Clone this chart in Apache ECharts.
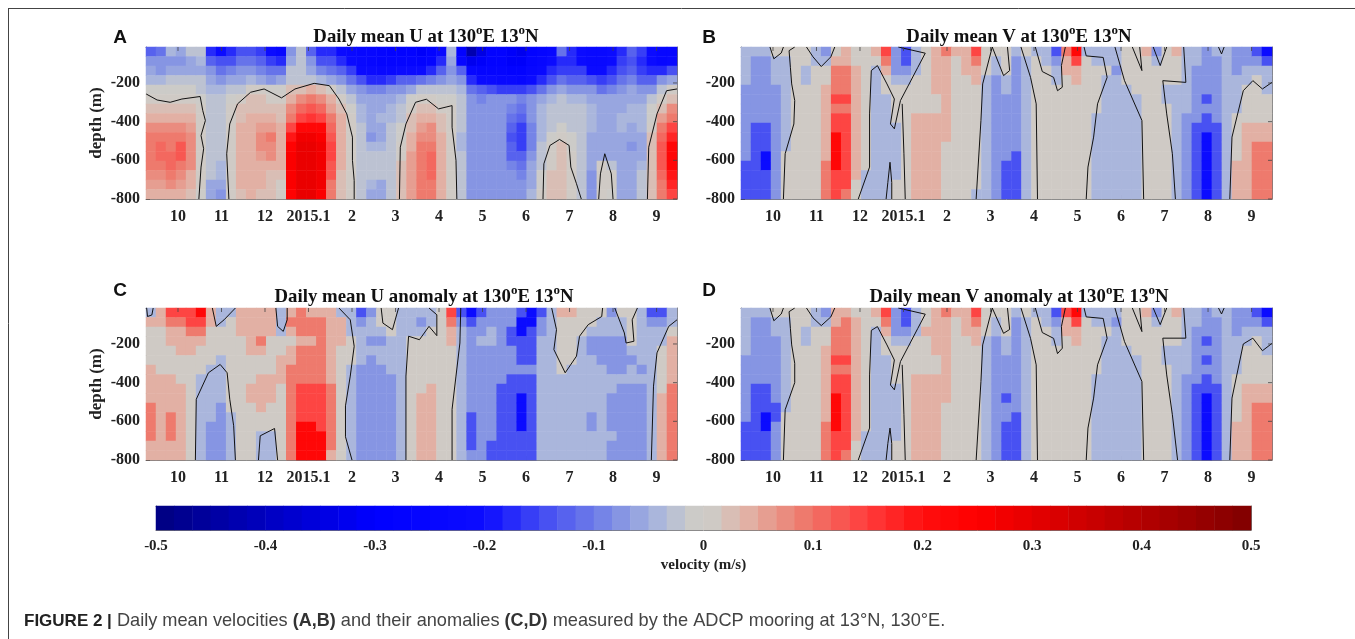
<!DOCTYPE html>
<html>
<head>
<meta charset="utf-8">
<title>Daily mean velocities</title>
<script src="https://cdn.jsdelivr.net/npm/echarts@6/dist/echarts.min.js"></script>
<style>
html, body { margin: 0; padding: 0; background: #fff; }
#main { width: 1355px; height: 639px; }
</style>
</head>
<body>
<div id="main"></div>
<script>
var monthTicks = [0, 1, 2, 3, 4, 5, 6, 7, 8, 9, 10, 11];
var monthLabels = ['10', '11', '12', '2015.1', '2', '3', '4', '5', '6', '7', '8', '9'];
var depthTicks = [-200, -400, -600, -800];
var barTicks = [-0.5, -0.4, -0.3, -0.2, -0.1, 0, 0.1, 0.2, 0.3, 0.4, 0.5];

// velocity in cm/s: one line per time column, 16 depths from surface to 800 m
var panelA = [
[-12,-8,-6,-4,-1,1,2,4,7,9,10,10,9,7,6,5],
[-10,-8,-7,-4,-1,1,2,4,7,10,11,11,9,8,6,5],
[-4,-7,-6,-3,-1,1,2,4,7,9,10,11,11,9,7,5],
[-6,-8,-6,-3,-1,1,2,5,8,10,12,12,10,8,6,4],
[-2,-5,-5,-2,-1,1,2,4,6,8,8,8,7,5,4,3],
[-2,-4,-5,-3,-2,-1,1,1,1,1,1,1,1,1,1,-1],
[-18,-12,-8,-5,-4,-3,-3,-2,-2,-2,-2,-3,-3,-3,-5,-6],
[-20,-14,-10,-7,-4,-3,-3,-3,-2,-2,-2,-3,-4,-4,-5,-7],
[-18,-14,-9,-6,-3,-1,1,1,1,1,1,1,1,1,1,1],
[-14,-10,-8,-5,-2,1,2,3,4,4,4,4,4,4,4,3],
[-14,-10,-7,-4,1,2,3,4,5,5,5,5,5,4,4,4],
[-16,-12,-9,-6,1,2,3,4,6,7,7,6,5,4,4,3],
[-20,-15,-11,-8,-1,1,3,4,6,9,8,7,5,3,2,2],
[-24,-18,-10,-5,-1,1,2,3,4,5,5,4,4,2,1,1],
[-8,-6,-3,-2,2,5,7,10,15,20,25,26,26,26,26,25],
[-3,-2,-3,-2,3,8,11,15,22,28,30,30,30,30,30,30],
[-12,-8,-6,-3,4,9,12,16,22,28,30,30,30,30,30,30],
[-18,-14,-9,-4,3,8,11,14,22,26,28,28,28,28,28,26],
[-18,-14,-10,-5,1,4,6,9,11,13,14,14,13,12,10,9],
[-20,-17,-13,-8,-3,1,3,4,5,5,5,4,4,3,2,2],
[-22,-20,-16,-11,-5,-2,-1,1,1,1,1,1,1,1,1,1],
[-24,-22,-20,-14,-7,-5,-4,-4,-3,-3,-3,-2,-2,-2,-3,-3],
[-24,-24,-21,-17,-9,-6,-5,-5,-6,-7,-4,-3,-3,-3,-4,-5],
[-26,-25,-22,-18,-9,-6,-5,-4,-5,-6,-4,-3,-3,-3,-5,-5],
[-28,-26,-22,-16,-8,-5,-4,-4,-3,-3,-3,-3,-3,-3,-3,-3],
[-28,-26,-20,-13,-7,-4,-3,-2,-1,-1,1,1,2,2,2,2],
[-28,-26,-20,-12,-6,-1,1,2,3,5,5,6,6,6,6,6],
[-30,-28,-20,-10,-3,1,2,4,6,8,9,10,10,10,10,9],
[-28,-26,-18,-9,-3,1,3,5,7,8,10,11,11,11,10,9],
[-22,-18,-12,-7,-3,-1,1,2,3,4,5,5,5,5,5,4],
[-4,-6,-8,-6,-3,-1,1,1,1,1,1,1,1,1,1,1],
[-28,-24,-12,-8,-4,-3,-3,-3,-3,-4,-4,-3,-3,-3,-3,-3],
[-42,-32,-24,-17,-10,-7,-7,-7,-7,-7,-7,-7,-7,-7,-7,-7],
[-34,-30,-26,-20,-13,-9,-8,-8,-8,-8,-8,-8,-8,-8,-8,-8],
[-28,-28,-25,-20,-14,-8,-7,-7,-7,-7,-7,-7,-7,-7,-7,-7],
[-28,-28,-26,-22,-15,-8,-7,-7,-8,-8,-8,-8,-8,-8,-8,-8],
[-30,-30,-28,-23,-16,-8,-9,-11,-13,-14,-13,-12,-9,-8,-8,-7],
[-32,-30,-28,-24,-16,-9,-10,-12,-15,-16,-15,-13,-11,-9,-8,-7],
[-28,-26,-24,-20,-14,-7,-7,-8,-9,-9,-9,-8,-6,-5,-5,-4],
[-26,-24,-22,-17,-11,-5,-4,-4,-4,-4,-3,-3,-2,-1,-1,1],
[-24,-20,-18,-14,-8,-4,-3,-3,-3,-1,1,1,1,2,2,2],
[-10,-18,-16,-11,-6,-3,-2,-2,-1,1,2,3,3,3,3,3],
[-18,-18,-16,-12,-7,-4,-3,-3,-2,-1,-1,1,1,1,1,1],
[-20,-20,-16,-12,-7,-4,-3,-3,-3,-3,-3,-3,-3,-3,-3,-3],
[-22,-22,-20,-14,-8,-5,-4,-4,-4,-5,-5,-5,-6,-7,-7,-7],
[-22,-22,-20,-16,-10,-6,-5,-5,-5,-6,-6,-6,1,1,1,1],
[-20,-20,-18,-14,-9,-6,-5,-5,-5,-6,-6,-5,-3,1,1,-1],
[-18,-16,-14,-10,-7,-5,-5,-4,-4,-5,-5,-5,-5,-5,-5,-5],
[-12,-14,-12,-9,-6,-5,-4,-4,-5,-6,-7,-6,-5,-5,-5,-5],
[-16,-18,-16,-13,-8,-5,-4,-4,-4,-5,-5,-5,-4,-3,-3,-3],
[-20,-20,-18,-13,-7,-2,-1,-1,1,2,3,3,3,3,3,3],
[-24,-24,-18,-8,-3,1,3,6,9,11,13,13,13,11,10,9],
[-24,-22,-14,-5,1,3,7,10,14,18,22,23,23,20,18,15]
];

var panelB = [
[-4,-4,-4,-4,-8,-8,-8,-8,-8,-8,-8,-8,-14,-14,-14,-14],
[-4,-8,-8,-8,-8,-8,-8,-8,-14,-14,-14,-14,-14,-14,-14,-14],
[-4,-8,-8,-8,-8,-8,-8,-8,-14,-14,-14,-20,-20,-14,-14,-14],
[1,-4,-4,-4,-8,-8,-8,-8,-8,-8,-8,-8,-8,-8,-8,-8],
[1,-4,-4,-4,-4,-4,-4,-4,-4,-4,-4,1,1,1,1,1],
[1,1,1,1,1,1,1,1,1,1,1,1,1,1,1,1],
[1,1,-4,-4,1,1,1,1,1,1,1,1,1,1,1,1],
[-4,-4,1,1,1,1,1,1,1,1,1,1,1,1,1,1],
[-8,-4,1,1,4,4,4,4,4,4,4,4,9,9,9,9],
[1,4,9,9,9,15,9,15,15,22,22,22,22,15,15,15],
[4,4,9,9,9,15,9,15,15,15,15,15,15,15,15,9],
[1,1,4,4,4,4,4,4,4,4,4,4,4,4,1,1],
[1,1,1,1,1,1,1,1,1,1,1,1,1,-4,-4,-4],
[4,1,-4,-4,-4,-4,-4,-4,-4,-4,-4,-4,-4,-4,-4,-4],
[15,9,4,1,1,-4,-4,-4,-4,-4,-4,-4,-4,-4,-4,-4],
[-8,-8,-8,-4,1,1,1,1,-4,-4,-4,-4,-4,-4,1,1],
[-14,-14,-8,-4,1,1,1,1,1,1,1,1,1,1,1,1],
[-4,-4,-4,1,1,1,1,4,4,4,4,4,4,4,4,4],
[1,1,1,1,1,1,1,4,4,4,4,4,4,4,4,4],
[4,4,4,4,4,1,1,4,4,4,4,4,4,4,4,4],
[9,4,4,4,4,4,4,4,4,4,1,1,1,1,1,1],
[4,1,1,1,1,1,1,1,1,1,1,1,1,1,1,1],
[4,4,4,1,1,1,1,1,1,1,1,1,1,1,1,1],
[15,9,4,4,1,1,1,1,1,1,1,1,1,1,1,-4],
[1,1,1,-4,-4,-4,-4,-4,-4,-4,-4,-4,-4,-4,-4,-4],
[1,-4,-4,-8,-8,-8,-8,-8,-8,-8,-8,-8,-8,-8,-8,-8],
[1,1,1,-4,-4,-8,-8,-8,-8,-8,-8,-8,-14,-14,-14,-14],
[-4,-8,-8,-8,-8,-8,-8,-8,-8,-8,-8,-14,-14,-14,-14,-14],
[1,-4,-4,-4,-4,-4,-4,-4,-4,-4,-4,-4,-4,-4,-4,-4],
[-4,1,1,1,1,1,1,1,1,1,1,1,1,1,1,1],
[-4,-4,1,1,1,1,1,1,1,1,1,1,1,1,1,1],
[-14,-8,-4,-4,1,1,1,1,1,1,1,1,1,1,1,1],
[9,4,4,1,1,1,1,1,1,1,1,1,1,1,1,1],
[22,15,4,4,1,1,1,1,1,1,1,1,1,1,1,1],
[-4,1,1,1,1,1,1,1,1,1,1,1,1,1,1,1],
[-4,-4,1,1,1,1,1,-4,-4,-4,-4,-4,-4,-4,-4,-4],
[-4,-4,1,-4,-4,-4,-4,-4,-4,-4,-4,-4,-4,-4,-4,-4],
[-4,-4,-8,-4,-4,-4,-4,-4,-4,-4,-4,-4,-4,-4,-4,-4],
[1,1,1,1,-4,-4,-4,-4,-4,-4,-4,-4,-4,-4,-4,-4],
[1,1,1,1,1,-4,-4,-4,-4,-4,-4,-4,-4,-4,-4,-4],
[4,1,1,1,1,1,1,1,1,1,1,1,1,1,1,1],
[-8,-4,1,1,1,1,1,1,1,1,1,1,1,1,1,1],
[1,1,1,1,-4,-4,1,1,1,1,1,1,1,1,1,1],
[4,1,1,1,-4,-4,-4,-4,-4,-4,-4,-4,-4,-4,-4,-4],
[-4,-4,-4,-4,-4,-4,-4,-8,-8,-8,-8,-8,-8,-8,-8,-8],
[-4,-4,-8,-8,-8,-8,-8,-8,-14,-14,-14,-14,-14,-14,-14,-14],
[-8,-8,-8,-8,-8,-14,-8,-14,-14,-20,-20,-20,-20,-20,-20,-20],
[-4,-8,-8,-8,-8,-8,-8,-8,-14,-14,-14,-14,-14,-14,-14,-14],
[-4,-4,-4,-4,-4,-4,-4,-4,-4,-4,-4,-4,-4,-4,-4,-4],
[-8,-8,-8,-4,-4,-4,-4,1,1,1,1,1,4,4,4,4],
[-8,-8,-4,-4,1,1,1,1,4,4,4,4,4,4,4,4],
[-14,-8,-4,1,1,1,1,1,4,4,9,9,9,9,9,9],
[-20,-14,-4,-4,-4,1,1,1,4,4,9,9,9,9,9,9]
];

var panelC = [
[-4,4,1,1,1,1,4,4,4,4,9,9,9,9,4,4],
[4,4,1,1,1,1,1,4,4,4,4,4,4,4,4,4],
[15,9,4,4,1,1,1,4,4,4,4,9,9,9,4,4],
[15,9,4,4,4,1,1,1,4,4,4,4,4,4,4,4],
[15,15,9,4,4,1,1,1,1,1,1,1,1,1,1,1],
[22,15,9,4,1,1,1,-4,-4,-4,-4,-4,-4,-4,-4,-4],
[4,4,1,1,1,1,-4,-4,-4,-4,-4,-4,-8,-8,-8,-8],
[-4,-4,1,1,1,-4,-4,-4,-4,-4,-8,-8,-8,-8,-8,-8],
[-4,1,1,1,1,1,1,1,1,1,1,-4,-4,-4,-4,-4],
[4,4,4,1,1,1,1,1,1,1,1,1,1,1,1,1],
[4,4,4,4,4,1,1,1,4,4,1,1,1,1,1,1],
[4,4,4,9,4,1,1,4,4,4,4,1,1,-4,-4,-4],
[4,4,4,1,1,1,1,4,4,4,1,1,1,-4,-4,-4],
[-4,-4,-4,1,1,4,4,4,1,1,1,1,1,1,1,1],
[4,9,4,1,4,4,9,9,9,9,9,9,9,9,9,9],
[9,9,9,4,9,9,9,9,15,15,15,15,22,22,22,22],
[4,9,9,4,9,9,9,9,15,15,15,15,22,22,22,22],
[4,9,9,9,9,9,9,9,15,15,15,15,15,22,22,22],
[4,4,4,4,4,4,4,4,9,9,9,9,9,9,9,4],
[-4,4,4,4,1,1,1,1,1,1,1,1,1,1,1,1],
[-4,-4,-4,1,1,1,-4,-4,-4,-4,-4,-4,-4,-4,-4,-4],
[-14,-8,-4,-4,-4,-4,-8,-8,-8,-8,-8,-8,-8,-8,-8,-8],
[-8,-4,-4,-8,-4,-8,-8,-8,-8,-8,-8,-8,-8,-8,-8,-8],
[1,1,-4,-8,-4,-4,-8,-8,-8,-8,-8,-8,-8,-8,-8,-8],
[1,1,1,-4,-4,-4,-4,-8,-8,-8,-8,-8,-8,-8,-8,-8],
[-4,-4,-4,-4,-4,-4,-4,-4,-4,-4,-4,-4,-4,-4,-4,-4],
[-4,-4,-4,1,1,1,1,1,1,1,1,1,1,1,1,1],
[-4,-8,-4,1,1,1,1,1,1,4,4,4,4,4,4,4],
[-4,-4,1,1,1,1,1,1,4,4,4,4,4,4,4,4],
[1,1,1,1,1,1,1,1,1,1,1,1,1,1,1,1],
[15,9,4,4,1,1,1,1,1,1,1,1,1,1,1,1],
[-14,-8,-4,-4,-4,-4,-4,-4,-4,-4,-4,-4,-4,-4,-4,-4],
[-20,-14,-8,-8,-8,-8,-8,-8,-8,-8,-8,-14,-14,-14,-14,-8],
[-14,-8,-8,-4,-8,-8,-8,-8,-8,-8,-8,-8,-8,-8,-8,-8],
[-8,-8,-4,-4,-8,-8,-8,-8,-8,-8,-8,-8,-8,-8,-14,-14],
[-8,-8,-8,-8,-8,-8,-8,-8,-14,-14,-14,-14,-14,-14,-14,-14],
[-8,-8,-14,-14,-8,-8,-8,-14,-14,-14,-14,-14,-14,-14,-14,-14],
[-14,-20,-20,-14,-14,-14,-8,-14,-14,-20,-20,-20,-20,-14,-14,-14],
[-20,-20,-14,-14,-14,-14,-8,-14,-14,-14,-14,-14,-14,-14,-14,-14],
[-14,-8,-8,-4,-4,-4,-4,-4,-4,-4,-4,-4,-4,-4,-4,-4],
[-4,-4,-4,-4,-4,-4,-4,-4,-4,-4,-4,-4,-4,-4,-4,-4],
[4,1,1,1,1,1,1,-4,-4,-4,-4,-4,-4,-4,-4,-4],
[4,1,1,1,1,1,-4,-4,-4,-4,-4,-4,-4,-4,-4,-4],
[1,1,1,-4,-4,-4,-4,-4,-4,-4,-4,-4,-4,-4,-4,-4],
[1,1,-4,-8,-8,-4,-4,-4,-4,-4,-4,-8,-8,-4,-4,-4],
[1,-4,-4,-8,-8,-8,-4,-4,-4,-4,-4,-4,-4,-4,-4,-4],
[-8,-4,-4,-8,-8,-8,-8,-4,-4,-8,-8,-8,-8,-4,-8,-8],
[1,-4,-4,-8,-8,-8,-8,-4,-8,-8,-8,-8,-8,-8,-8,-8],
[1,1,1,1,-4,-8,-4,-4,-8,-8,-8,-8,-8,-8,-8,-8],
[-4,-4,-4,-4,-4,-4,-8,-4,-8,-8,-8,-8,-8,-8,-8,-8],
[-14,-8,-4,-4,-4,-4,-4,-4,-4,-4,-4,-4,-4,-4,-4,-4],
[-14,-8,-4,-4,1,1,1,1,1,4,4,4,4,4,4,4],
[-4,-4,1,4,4,4,4,4,9,9,9,9,9,9,9,9]
];

var panelD = [
[-4,-4,-4,-4,-4,-8,-8,-8,-8,-8,-8,-8,-14,-14,-14,-14],
[-4,-8,-8,-8,-8,-8,-8,-8,-14,-14,-14,-14,-14,-14,-14,-14],
[-4,-8,-8,-8,-8,-8,-8,-8,-14,-14,-14,-20,-20,-14,-14,-14],
[1,-4,-4,-8,-8,-8,-8,-8,-8,-8,-14,-14,-8,-8,-8,-8],
[1,-4,-4,-4,-4,-4,-4,-4,-4,-4,-4,1,1,1,1,1],
[1,1,1,1,1,1,1,1,1,1,1,1,1,1,1,1],
[1,1,-4,-4,1,1,1,1,1,1,1,1,1,1,1,1],
[-4,-4,1,1,1,1,1,1,1,1,1,1,1,1,1,1],
[-8,-4,1,1,4,4,4,4,4,4,4,4,9,9,9,9],
[4,4,9,9,9,15,9,15,15,22,22,22,22,15,15,15],
[4,9,9,9,9,15,9,15,15,15,15,15,15,15,15,9],
[1,4,4,4,4,4,4,4,4,4,4,4,4,4,1,1],
[1,1,1,1,1,1,1,1,1,1,1,1,1,-4,-4,-4],
[4,1,-4,-4,-4,-4,-4,-4,-4,-4,-4,-4,-4,-4,-4,-4],
[15,9,4,1,1,-4,-4,-4,-4,-4,-4,-4,-4,-4,-4,-4],
[-8,-8,-8,-4,1,1,1,1,-4,-4,-4,-4,-4,-4,1,1],
[-14,-14,-8,-4,1,1,1,1,1,1,1,1,1,1,1,1],
[-4,-4,-4,1,1,1,1,4,4,4,4,4,4,4,4,4],
[1,1,4,1,1,1,1,4,4,4,4,4,4,4,4,4],
[4,4,4,4,4,1,1,4,4,4,4,4,4,4,4,4],
[9,4,4,4,4,4,4,4,4,4,1,1,1,1,1,1],
[4,1,1,1,1,1,1,1,1,1,1,1,1,1,1,1],
[4,4,4,1,1,1,1,1,1,1,1,1,1,1,1,1],
[15,9,4,4,1,1,1,1,1,1,1,1,1,1,1,1],
[1,1,1,-4,-4,-4,-4,-4,-4,-4,-4,-4,-4,-4,-4,-4],
[1,-4,-4,-8,-8,-8,-8,-8,-8,-8,-8,-8,-8,-8,-8,-8],
[1,1,1,-4,-4,-8,-8,-8,-8,-14,-8,-8,-14,-14,-14,-14],
[-4,-8,-8,-8,-8,-8,-8,-8,-8,-8,-8,-14,-14,-14,-14,-14],
[1,-4,-4,-4,-4,-4,-4,-4,-4,-4,-4,-4,-4,-4,-4,-4],
[-4,1,1,1,1,1,1,1,1,1,1,1,1,1,1,1],
[-4,-4,1,1,1,1,1,1,1,1,1,1,1,1,1,1],
[-14,-8,-4,-4,1,1,1,1,1,1,1,1,1,1,1,1],
[15,4,4,1,1,1,1,1,1,1,1,1,1,1,1,1],
[22,15,4,4,1,1,1,1,1,1,1,1,1,1,1,1],
[-4,1,1,1,1,1,1,1,1,1,1,1,1,1,1,1],
[-4,-4,1,1,1,1,1,-4,-4,-4,-4,-4,-4,-4,-4,-4],
[-4,-4,1,-4,-4,-4,-4,-4,-4,-4,-4,-4,-4,-4,-4,-4],
[-4,-8,-4,-4,-4,-4,-4,-4,-4,-4,-4,-4,-4,-4,-4,-4],
[1,1,1,1,-4,-4,-4,-4,-4,-4,-4,-4,-4,-4,-4,-4],
[1,1,1,1,1,-4,-4,-4,-4,-4,-4,-4,-4,-4,-4,-4],
[4,1,1,1,1,1,1,1,1,1,1,1,1,1,1,1],
[-8,-4,1,1,1,1,1,1,1,1,1,1,1,1,1,1],
[1,1,1,1,-4,-4,1,1,1,1,1,1,1,1,1,1],
[4,1,1,1,-4,-4,-4,-4,-4,-4,-4,-4,-4,-4,-4,-4],
[-4,-4,-4,-4,-4,-4,-4,-8,-8,-8,-8,-8,-8,-8,-8,-8],
[-4,-4,-8,-8,-8,-8,-8,-8,-14,-14,-14,-14,-14,-14,-14,-14],
[-8,-8,-8,-14,-8,-14,-8,-14,-14,-20,-20,-20,-20,-20,-20,-20],
[-4,-8,-8,-8,-8,-8,-8,-8,-14,-14,-14,-14,-14,-14,-14,-14],
[-4,-4,-4,-4,-4,-4,-4,-4,-4,-4,-4,-4,-4,-4,-4,-4],
[-8,-8,-8,-4,-4,-4,-4,1,1,1,1,1,4,4,4,4],
[-8,-8,-4,-4,1,1,1,1,4,4,4,4,4,4,4,4],
[-14,-8,-4,1,1,1,1,1,4,4,9,9,9,9,9,9],
[-20,-14,-4,-4,-4,1,1,1,4,4,9,9,9,9,9,9]
];

// zero contours: [month position, depth in m]
var contoursA = [
[[-0.73,-257],[-0.48,-288],[-0.18,-300],[0.09,-283],[0.51,-270],[0.57,-343],[0.63,-394],[0.53,-472],[0.59,-540],[0.53,-635],[0.48,-800]],
[[1.17,-800],[1.12,-566],[1.19,-412],[1.37,-308],[1.67,-248],[1.98,-231],[2.38,-277],[2.69,-231],[3.13,-202],[3.48,-214],[3.7,-283],[3.88,-360],[4.01,-480],[4.01,-600],[4.05,-704],[4.05,-800]],
[[5.09,-800],[5.11,-532],[5.24,-412],[5.46,-300],[5.71,-284],[5.99,-334],[6.3,-317],[6.3,-429],[6.39,-600],[6.41,-800]],
[[8.39,-800],[8.41,-618],[8.55,-523],[8.77,-492],[8.99,-523],[9.03,-635],[9.16,-721],[9.27,-800]],
[[9.67,-800],[9.71,-670],[9.81,-566],[9.96,-670],[10,-800]],
[[10.79,-800],[10.82,-532],[11.01,-360],[11.23,-240],[11.47,-231]]
];
var contoursB = [
[[0.24,-800],[0.28,-566],[0.48,-412],[0.5,-291],[0.43,-205],[0.4,-119],[0.37,-33],[0.5,-14]],
[[-0.07,-14],[0.02,-75],[0.19,-45],[0.24,-14]],
[[0.77,-14],[0.92,-65],[1.11,-115],[1.33,-65],[1.42,-14]],
[[1.96,-800],[2.22,-635],[2.22,-360],[2.26,-136],[2.4,-110],[2.62,-205],[2.79,-283],[2.7,-412],[2.79,-437],[2.93,-291],[3.33,-119],[3.5,-46],[2.88,-14]],
[[3.04,-800],[3.01,-566],[2.97,-308]],
[[2.73,-800],[2.73,-715],[2.69,-610],[2.64,-715],[2.6,-800]],
[[4.67,-800],[4.78,-394],[4.82,-205],[5.04,-14]],
[[5.04,-14],[5.3,-162],[5.44,-136],[5.39,-14]],
[[6.08,-800],[6.05,-308],[5.92,-171],[5.7,-14]],
[[6.03,-14],[6.19,-141],[6.45,-171],[6.54,-240],[6.65,-222],[6.63,-110],[6.72,-14]],
[[7.2,-800],[7.24,-635],[7.37,-480],[7.46,-308],[7.68,-171],[7.59,-68],[7.2,-60],[7.15,-14]],
[[8.52,-800],[8.48,-394],[8.08,-188],[7.86,-14]],
[[8.26,-14],[8.48,-136],[8.43,-14]],
[[9.25,-800],[9.18,-566],[9.05,-360],[8.96,-188],[9.49,-197],[9.44,-14]],
[[8.74,-14],[8.9,-110],[9.05,-14]],
[[10.5,-800],[10.55,-480],[10.81,-240],[11.03,-188],[11.25,-231],[11.47,-197]],
[[10.24,-14],[10.31,-50],[10.37,-14]]
];
var contoursC = [
[[-0.72,-14],[-0.7,-58],[-0.6,-50],[-0.57,-14]],
[[0.79,-14],[0.88,-109],[1.06,-75],[1.32,-14]],
[[0.4,-800],[0.42,-486],[0.7,-349],[0.97,-306],[1.13,-349],[1.19,-486],[1.28,-623],[1.32,-800]],
[[1.85,-800],[1.89,-675],[2.22,-637],[2.29,-800]],
[[2.25,-14],[2.29,-109],[2.42,-135],[2.51,-75],[2.51,-14]],
[[3.7,-14],[3.96,-75],[4.05,-212],[3.96,-366],[3.85,-520],[3.85,-680],[4.0,-800]],
[[4.67,-14],[4.71,-92],[4.93,-126],[5.07,-14]],
[[5.24,-800],[5.24,-366],[5.3,-160],[5.55,-178],[5.77,-109],[5.95,-157],[5.95,-49],[5.77,-14]],
[[6.3,-800],[6.3,-538],[6.39,-366],[6.48,-195],[6.5,-14]],
[[8.59,-14],[8.7,-126],[8.64,-229],[8.9,-349],[9.16,-263],[9.23,-160],[9.43,-100],[9.74,-58],[9.76,-14]],
[[10.04,-14],[10.26,-143],[10.3,-195],[10.48,-186],[10.44,-75],[10.56,-14]],
[[10.88,-800],[10.93,-418],[11.01,-246],[11.28,-109],[11.47,-75]]
];
var contoursD = [
[[0.24,-800],[0.28,-540],[0.5,-400],[0.5,-300],[0.43,-205],[0.4,-119],[0.37,-33],[0.5,-14]],
[[-0.07,-14],[0.02,-80],[0.19,-45],[0.24,-14]],
[[0.77,-14],[0.92,-65],[1.11,-105],[1.33,-60],[1.42,-14]],
[[1.96,-800],[2.22,-635],[2.22,-360],[2.26,-130],[2.4,-110],[2.62,-205],[2.79,-283],[2.7,-412],[2.79,-437],[2.93,-291],[3.33,-119],[3.5,-46],[2.88,-14]],
[[3.04,-800],[3.01,-566],[2.97,-308]],
[[2.73,-800],[2.73,-715],[2.69,-635],[2.64,-715],[2.6,-800]],
[[4.67,-800],[4.78,-394],[4.82,-205],[5.04,-14]],
[[5.04,-14],[5.3,-145],[5.44,-125],[5.39,-14]],
[[6.08,-800],[6.05,-308],[5.92,-171],[5.7,-14]],
[[6.03,-14],[6.19,-141],[6.45,-171],[6.54,-250],[6.65,-222],[6.63,-110],[6.72,-14]],
[[7.2,-800],[7.24,-635],[7.37,-480],[7.46,-308],[7.68,-171],[7.59,-68],[7.2,-60],[7.15,-14]],
[[8.52,-800],[8.48,-394],[8.08,-188],[7.86,-14]],
[[8.26,-14],[8.48,-136],[8.43,-14]],
[[9.3,-800],[9.18,-566],[9.05,-360],[8.96,-170],[9.49,-170],[9.44,-14]],
[[8.74,-14],[8.9,-100],[9.05,-14]],
[[10.5,-800],[10.55,-480],[10.81,-200],[11.03,-170],[11.25,-235],[11.47,-197]],
[[10.24,-14],[10.31,-45],[10.37,-14]]
];

var panelTitles = ['Daily mean U', 'Daily mean V', 'Daily mean U anomaly', 'Daily mean V anomaly'];
var panelLetters = ['A', 'B', 'C', 'D'];
var panelValues = [panelA, panelB, panelC, panelD];
var panelContours = [contoursA, contoursB, contoursC, contoursD];

// stops of the colour bar, cm/s
var colourStops = [
    [-50, [0, 0, 128]], [-30, [0, 0, 255]], [-20, [12, 12, 255]], [-15, [64, 72, 244]],
    [-8, [128, 144, 228]], [-4, [172, 184, 220]], [-1, [204, 203, 200]], [1, [207, 202, 197]],
    [4, [226, 178, 166]], [9, [238, 124, 110]], [15, [255, 60, 60]], [20, [255, 14, 14]],
    [25, [255, 0, 0]], [50, [128, 0, 0]]
];

function colourAt(v) {
    for (var i = 1; i < colourStops.length; i++) {
        var a = colourStops[i - 1], b = colourStops[i];
        if (v <= b[0]) {
            var t = (v - a[0]) / (b[0] - a[0]);
            return 'rgb(' + [0, 1, 2].map(function (c) {
                return Math.round(a[1][c] + (b[1][c] - a[1][c]) * t);
            }).join(',') + ')';
        }
    }
    return 'rgb(128,0,0)';
}

// 60 equal steps, as in the bar
var step = 100 / 60;
var pieces = [];
var barCells = [];
for (var p = 0; p < 60; p++) {
    var low = -50 + p * step;
    pieces.push({gte: low, lt: low + step, color: colourAt(low + step / 2)});
    barCells.push([p, 0, low + step / 2]);
}
pieces[59].lte = 50;

var serif = 'Liberation Serif';
var boxes = [
    {left: 146, top: 47}, {left: 741, top: 47},
    {left: 146, top: 308}, {left: 741, top: 308}
];
var titlePos = [[426, 24], [1019, 24], [424, 284], [1019, 284]];
var letterPos = [[120, 28], [709, 28], [120, 281], [709, 281]];

var grids = [], xAxes = [], yAxes = [], series = [], titles = [];
var columnIds = panelA.map(function (c, i) { return i; });
var rowIds = panelA[0].map(function (c, i) { return i; });
var frameLine = {show: true, onZero: false, lineStyle: {color: '#777', width: 1}};

boxes.forEach(function (box, i) {
    grids.push({left: box.left, top: box.top, width: 531, height: 152, containLabel: false});
    xAxes.push({
        gridIndex: i, type: 'category', data: columnIds, position: 'top',
        axisLine: frameLine, axisTick: {show: false}, axisLabel: {show: false}
    });
    xAxes.push({
        gridIndex: i, type: 'value', position: 'bottom', min: -0.735, max: 11.47, splitLine: {show: false},
        axisLine: frameLine,
        axisTick: {inside: true, length: 4, customValues: monthTicks, lineStyle: {color: '#444'}},
        axisLabel: {
            customValues: monthTicks, margin: 10,
            fontFamily: serif, fontWeight: 'bold', fontSize: 16, color: '#222',
            formatter: function (v) { return monthLabels[Math.round(v)]; }
        }
    });
    yAxes.push({
        gridIndex: i, type: 'category', data: rowIds, inverse: true, position: 'right',
        axisLine: frameLine, axisTick: {show: false}, axisLabel: {show: false}
    });
    yAxes.push({
        gridIndex: i, type: 'value', position: 'left', min: -800, max: -14, splitLine: {show: false},
        axisLine: frameLine,
        axisTick: {inside: true, length: 4, customValues: depthTicks, lineStyle: {color: '#444'}},
        axisLabel: {
            customValues: depthTicks, margin: 6,
            fontFamily: serif, fontWeight: 'bold', fontSize: 16, color: '#222'
        },
        name: i % 2 === 0 ? 'depth (m)' : '', nameLocation: 'middle', nameGap: 41,
        nameTextStyle: {fontFamily: serif, fontWeight: 'bold', fontSize: 17, color: '#222'}
    });

    var cells = [];
    panelValues[i].forEach(function (col, x) {
        col.forEach(function (v, y) { cells.push([x, y, v]); });
    });
    series.push({
        type: 'heatmap', xAxisIndex: 2 * i, yAxisIndex: 2 * i, data: cells,
        silent: true, progressive: 0, animation: false
    });
    panelContours[i].forEach(function (line) {
        series.push({
            type: 'line', xAxisIndex: 2 * i + 1, yAxisIndex: 2 * i + 1, data: line,
            symbol: 'none', silent: true, animation: false, z: 5,
            lineStyle: {color: '#111', width: 1}
        });
    });
    // inward ticks along the top and right edges
    series.push({
        type: 'scatter', xAxisIndex: 2 * i + 1, yAxisIndex: 2 * i + 1, silent: true, animation: false, clip: false, z: 6,
        symbol: 'rect', symbolSize: [1, 4], symbolOffset: [0, 2], itemStyle: {color: '#444'},
        data: monthTicks.map(function (m) { return [m, -14]; })
    });
    series.push({
        type: 'scatter', xAxisIndex: 2 * i + 1, yAxisIndex: 2 * i + 1, silent: true, animation: false, clip: false, z: 6,
        symbol: 'rect', symbolSize: [4, 1], symbolOffset: [-2, 0], itemStyle: {color: '#444'},
        data: depthTicks.map(function (d) { return [11.47, d]; })
    });

    titles.push({
        text: '{a|' + panelTitles[i] + ' at 130}{s|o}{a|E 13}{s|o}{a|N}',
        left: titlePos[i][0], top: titlePos[i][1], textAlign: 'center', padding: 0,
        textStyle: {
            rich: {
                a: {fontFamily: serif, fontWeight: 'bold', fontSize: 18.8, color: '#111', lineHeight: 26},
                s: {fontFamily: serif, fontWeight: 'bold', fontSize: 13, color: '#111', lineHeight: 14, verticalAlign: 'top'}
            }
        }
    });
    titles.push({
        text: panelLetters[i], left: letterPos[i][0], top: letterPos[i][1], textAlign: 'center', padding: 0,
        textStyle: {fontFamily: 'Liberation Sans', fontWeight: 'bold', fontSize: 19, color: '#111'}
    });
});

// colour bar
grids.push({left: 156, top: 506, width: 1095, height: 24});
xAxes.push({
    gridIndex: 4, type: 'category', data: barCells.map(function (c) { return c[0]; }), position: 'top',
    axisLine: frameLine, axisTick: {show: false}, axisLabel: {show: false}
});
xAxes.push({
    gridIndex: 4, type: 'value', position: 'bottom', min: -0.5, max: 0.5, interval: 0.1, splitLine: {show: false},
    axisLine: frameLine,
    axisTick: {inside: true, length: 10, lineStyle: {color: '#444'}},
    axisLabel: {
        customValues: barTicks, margin: 9, showMinLabel: true, showMaxLabel: true,
        fontFamily: serif, fontWeight: 'bold', fontSize: 15, color: '#222',
        formatter: function (v) { return String(Math.round(v * 10) / 10); }
    },
    name: 'velocity (m/s)', nameLocation: 'middle', nameGap: 28,
    nameTextStyle: {fontFamily: serif, fontWeight: 'bold', fontSize: 15, color: '#222'}
});
yAxes.push({
    gridIndex: 4, type: 'category', data: [0], position: 'left',
    axisLine: frameLine, axisTick: {show: false}, axisLabel: {show: false}
});
yAxes.push({
    gridIndex: 4, type: 'category', data: [0], position: 'right',
    axisLine: frameLine, axisTick: {show: false}, axisLabel: {show: false}
});
series.push({type: 'heatmap', xAxisIndex: 8, yAxisIndex: 8, data: barCells, silent: true, animation: false});

titles.push({
    text: '{b|FIGURE 2 |} {r|Daily mean velocities }{b2|(A,B)}{r| and their anomalies }{b2|(C,D)}{r| measured by the ADCP mooring at 13°N, 130°E.}',
    left: 24, top: 612, padding: 0,
    textStyle: {
        rich: {
            b: {fontFamily: 'Liberation Sans', fontWeight: 'bold', fontSize: 17, color: '#222'},
            b2: {fontFamily: 'Liberation Sans', fontWeight: 'bold', fontSize: 18, color: '#333'},
            r: {fontFamily: 'Liberation Sans', fontWeight: 'normal', fontSize: 18.2, color: '#444'}
        }
    }
});

var heatIndexes = [];
series.forEach(function (s, i) { if (s.type === 'heatmap') heatIndexes.push(i); });

var myChart = echarts.init(document.getElementById('main'), null, {renderer: 'canvas'});
myChart.setOption({
    animation: false,
    backgroundColor: '#fff',
    title: titles,
    grid: grids,
    xAxis: xAxes,
    yAxis: yAxes,
    visualMap: {type: 'piecewise', show: false, seriesIndex: heatIndexes, dimension: 2, pieces: pieces},
    series: series,
    graphic: [
        {type: 'line', silent: true, shape: {x1: 8, y1: 8.5, x2: 1355, y2: 8.5}, style: {stroke: '#444', lineWidth: 1}},
        {type: 'line', silent: true, shape: {x1: 8.5, y1: 8, x2: 8.5, y2: 639}, style: {stroke: '#444', lineWidth: 1}}
    ]
});
</script>
</body>
</html>
